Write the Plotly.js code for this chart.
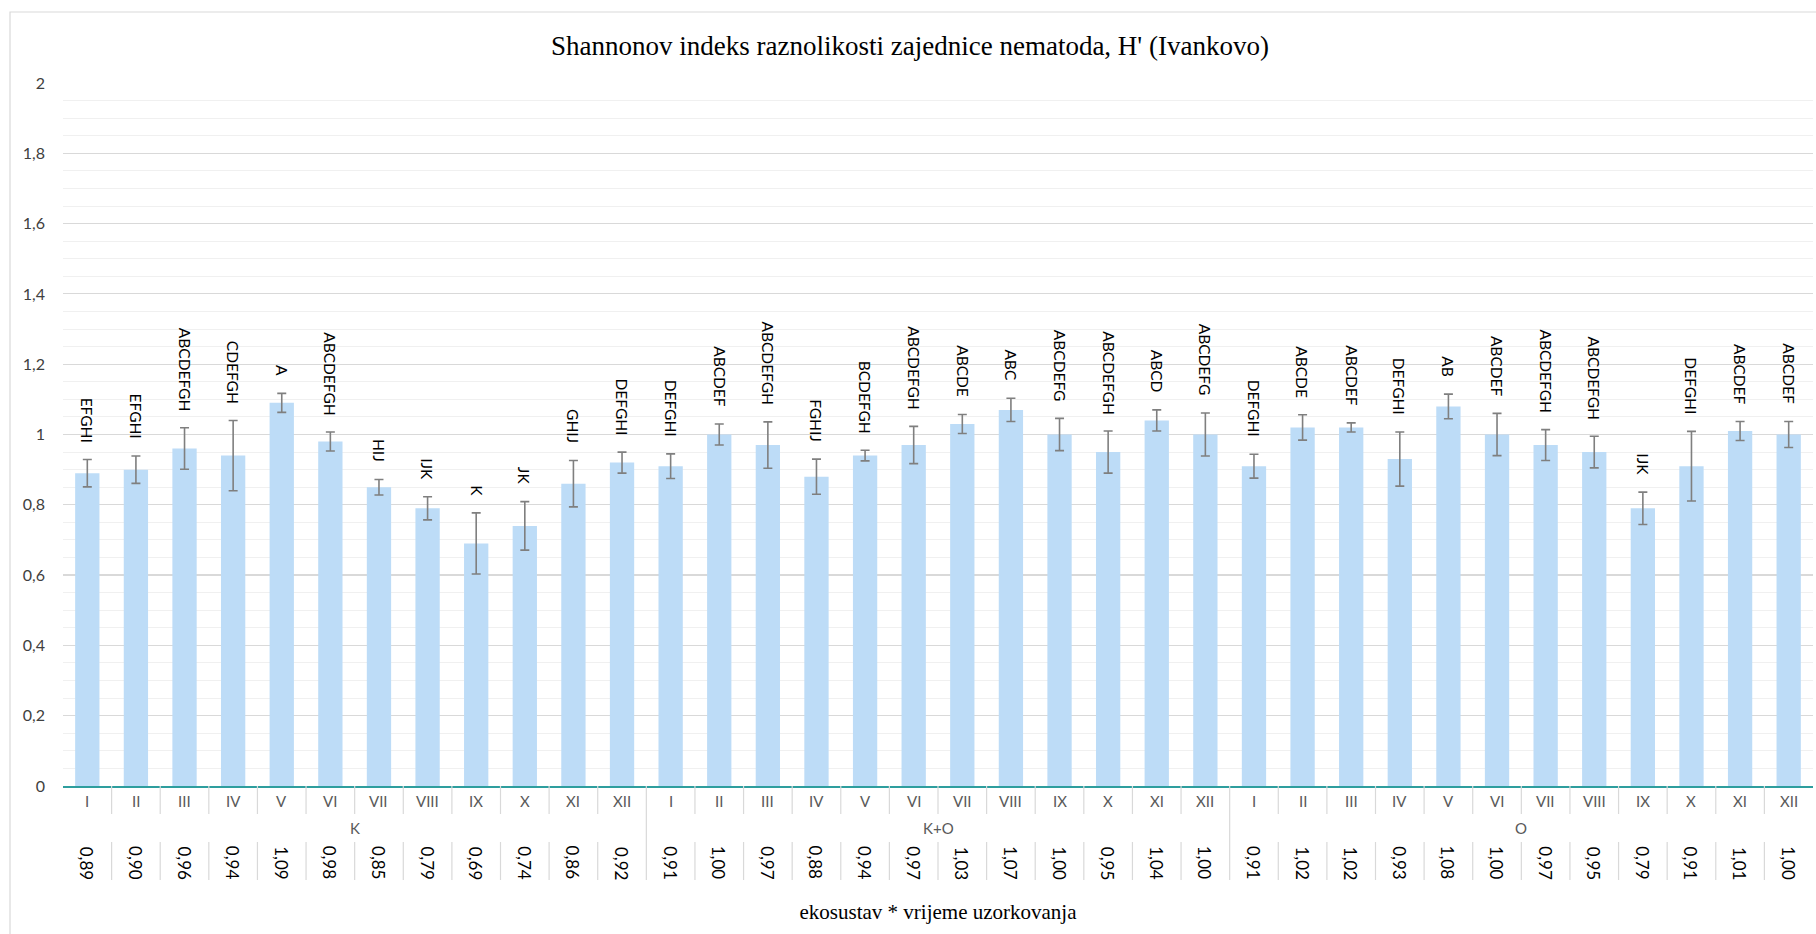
<!DOCTYPE html>
<html>
<head>
<meta charset="utf-8">
<script src="https://cdn.plot.ly/plotly-3.0.1.min.js"></script>
<style>
html,body{margin:0;padding:0;background:#fff;}
#chart{width:1816px;height:934px;}
</style>
</head>
<body>
<div id="chart"></div>
<script>
// ---- data ----
const groups = ["K", "K+O", "O"];
const months = ["I","II","III","IV","V","VI","VII","VIII","IX","X","XI","XII"];
const valuesK  = [0.89, 0.90, 0.96, 0.94, 1.09, 0.98, 0.85, 0.79, 0.69, 0.74, 0.86, 0.92];
const valuesKO = [0.91, 1.00, 0.97, 0.88, 0.94, 0.97, 1.03, 1.07, 1.00, 0.95, 1.04, 1.00];
const valuesO  = [0.91, 1.02, 1.02, 0.93, 1.08, 1.00, 0.97, 0.95, 0.79, 0.91, 1.01, 1.00];
const errK  = [0.039, 0.039, 0.059, 0.100, 0.027, 0.027, 0.022, 0.033, 0.087, 0.069, 0.066, 0.030];
const errKO = [0.035, 0.030, 0.066, 0.050, 0.015, 0.053, 0.027, 0.033, 0.046, 0.060, 0.030, 0.061];
const errO  = [0.034, 0.036, 0.013, 0.077, 0.035, 0.060, 0.044, 0.045, 0.046, 0.099, 0.027, 0.037];
const lettersK  = ["EFGHI","EFGHI","ABCDEFGH","CDEFGH","A","ABCDEFGH","HIJ","IJK","K","JK","GHIJ","DEFGHI"];
const lettersKO = ["DEFGHI","ABCDEF","ABCDEFGH","FGHIJ","BCDEFGH","ABCDEFGH","ABCDE","ABC","ABCDEFG","ABCDEFGH","ABCD","ABCDEFG"];
const lettersO  = ["DEFGHI","ABCDE","ABCDEF","DEFGHI","AB","ABCDEF","ABCDEFGH","ABCDEFGH","IJK","DEFGHI","ABCDEF","ABCDEF"];
const titleText = "Shannonov indeks raznolikosti zajednice nematoda, H' (Ivankovo)";
const xTitleText = "ekosustav * vrijeme uzorkovanja";

// ---- build ----
const vals = [].concat(valuesK, valuesKO, valuesO);
const errs = [].concat(errK, errKO, errO);
const letters = [].concat(lettersK, lettersKO, lettersO);
const n = vals.length;
const xs = vals.map((v, i) => i);
const monthLabels = [].concat(months, months, months);

const W = 1816, H = 934;
const M = {l: 63, r: 3, t: 83, b: 148};
const PH = H - M.t - M.b;
const PW = W - M.l - M.r;
const AXIS_Y = H - M.b;
const py = p => -(p) / PH;          // pixels below axis -> paper y
const px = p => (p - M.l) / PW;     // page x -> paper x

const trace = {
  type: 'bar',
  x: xs,
  y: vals,
  marker: {color: '#BDDCF7'},
  error_y: {type: 'data', array: errs, visible: true, color: '#7F7F7F', thickness: 1.6, width: 4.5},
  hoverinfo: 'y'
};

const annotations = [];
const shapes = [];
const monthFont = {family: 'Lato, sans-serif', size: 15, color: '#595959'};
const valFont = {family: 'Lato, sans-serif', size: 17, color: '#000000'};
const letFont = {family: 'Lato, sans-serif', size: 15.5, color: '#000000'};

for (let i = 0; i < n; i++) {
  annotations.push({x: xs[i], y: vals[i] + errs[i], xref: 'x', yref: 'y', text: letters[i],
    textangle: 90, showarrow: false, yanchor: 'bottom', xanchor: 'center', yshift: 15, font: letFont});
  annotations.push({x: xs[i], y: py(15), xref: 'x', yref: 'paper', text: monthLabels[i],
    showarrow: false, yanchor: 'middle', xanchor: 'center', font: monthFont});
  annotations.push({x: xs[i], y: py(77), xref: 'x', yref: 'paper', text: vals[i].toFixed(2).replace('.', ','),
    textangle: 90, showarrow: false, yanchor: 'middle', xanchor: 'center', font: valFont});
}
groups.forEach((g, gi) => {
  const mid = gi * months.length + (months.length - 1) / 2;
  annotations.push({x: mid, y: py(42), xref: 'x', yref: 'paper', text: g,
    showarrow: false, yanchor: 'middle', xanchor: 'center', font: monthFont});
});

const divColor = '#D9D9D9';
for (let i = 0; i < n - 1; i++) {
  const xb = xs[i] + 0.5;
  const isGroup = (i + 1) % months.length === 0;
  if (isGroup) {
    shapes.push({type: 'line', xref: 'x', yref: 'paper', x0: xb, x1: xb, y0: 0, y1: py(94), line: {color: divColor, width: 1.2}});
  } else {
    shapes.push({type: 'line', xref: 'x', yref: 'paper', x0: xb, x1: xb, y0: 0, y1: py(28), line: {color: divColor, width: 1.2}});
    shapes.push({type: 'line', xref: 'x', yref: 'paper', x0: xb, x1: xb, y0: py(56), y1: py(94), line: {color: divColor, width: 1.2}});
  }
}
// chart frame
shapes.push({type: 'rect', xref: 'paper', yref: 'paper', x0: px(10), x1: px(1840), y0: py(200), y1: (AXIS_Y - 12) / PH,
  line: {color: '#D9D9D9', width: 1.2}, fillcolor: 'rgba(0,0,0,0)', layer: 'below'});

const layout = {
  width: W, height: H,
  margin: M,
  paper_bgcolor: '#ffffff', plot_bgcolor: '#ffffff',
  separators: ', ',
  showlegend: false,
  bargap: 0.5,
  title: {text: titleText, x: 910 / W, xref: 'container', xanchor: 'center', y: 1 - 46 / H, yref: 'container', yanchor: 'middle',
    font: {family: '"Liberation Serif", "Times New Roman", serif', size: 27, color: '#000'}},
  xaxis: {
    range: [-0.5, n - 0.5], showticklabels: false, ticks: '', showgrid: false, zeroline: false,
    showline: true, linecolor: '#2E9E9E', linewidth: 1.5,
    title: {text: xTitleText, standoff: 118, font: {family: '"Liberation Serif", "Times New Roman", serif', size: 21, color: '#000'}},
    automargin: false, fixedrange: true
  },
  yaxis: {
    range: [0, 2], dtick: 0.2, tick0: 0, showgrid: true, gridcolor: '#D9D9D9', gridwidth: 1.2,
    minor: {dtick: 0.05, showgrid: true, gridcolor: '#F0F0F0', gridwidth: 1},
    zeroline: false, showline: false, ticks: '', ticklabelstandoff: 17,
    tickfont: {family: 'Lato, sans-serif', size: 16, color: '#404040'},
    automargin: false, fixedrange: true
  },
  annotations: annotations,
  shapes: shapes
};

Plotly.newPlot('chart', [trace], layout, {displayModeBar: false, staticPlot: true});
</script>
</body>
</html>
